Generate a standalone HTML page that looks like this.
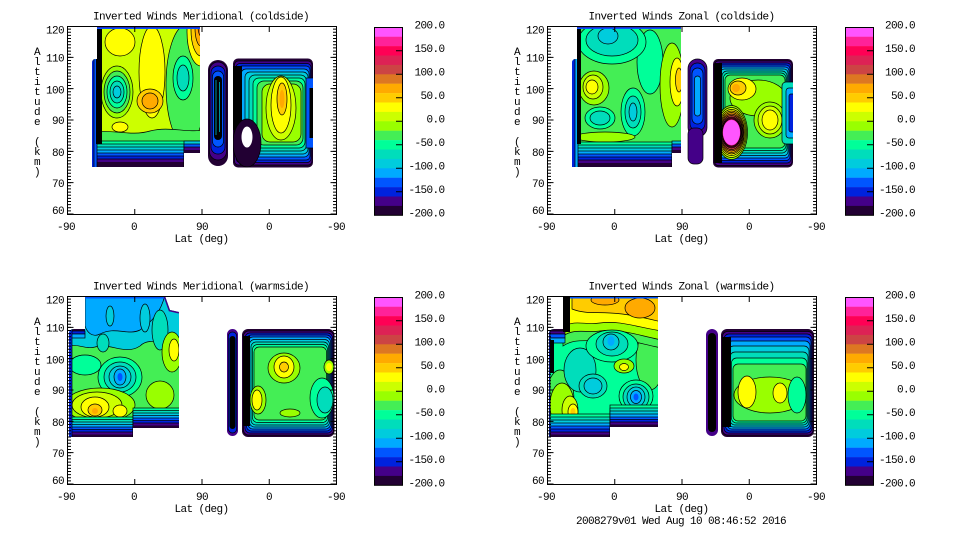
<!DOCTYPE html>
<html><head><meta charset="utf-8">
<style>
html,body{margin:0;padding:0;background:#fff;overflow:hidden}
svg{display:block}
text{font-family:"Liberation Mono","DejaVu Sans Mono",monospace;font-size:11px;letter-spacing:-0.6px;fill:#000}
.k1{fill:#ff55ff}.k2{fill:#ff2299}.k3{fill:#ff0055}.k4{fill:#dd2255}.k5{fill:#cc4444}
.k6{fill:#dd7722}.k7{fill:#ffaa00}.k8{fill:#ffcc00}.k9{fill:#ffff00}.k10{fill:#ccff00}
.k11{fill:#99ff00}.k12{fill:#44ee55}.k13{fill:#00ff99}.k14{fill:#00ddbb}.k15{fill:#00ccdd}
.k16{fill:#00aaff}.k17{fill:#0055ff}.k18{fill:#0022dd}.k19{fill:#440088}.k20{fill:#220033}
.s{stroke:#000;stroke-width:.7}
.bk{fill:#000}
</style></head><body>
<svg width="960" height="540" viewBox="0 0 960 540" xmlns="http://www.w3.org/2000/svg">
<defs>
<clipPath id="cA1"><path d="M92,63 Q92,59 95.5,59 L97,59 L97,26 L200,26 L200,153 L184,153 L184,167 L92,167Z"/></clipPath>
<clipPath id="cC1"><rect x="233" y="58.5" width="80" height="109" rx="5"/></clipPath>
<clipPath id="cA2"><path d="M572,63 Q572,59 575.5,59 L577,59 L577,26 L681,26 L681,153 L672,153 L672,167 L572,167Z"/></clipPath>
<clipPath id="cC2"><rect x="713" y="59" width="80" height="108.5" rx="5"/></clipPath>
<clipPath id="cA3"><path d="M69,334 Q69,329 74,329 L85,329 L85,296 L165,296 L170,310 L179,312 L179,428 L133,428 L133,437 L69,437Z"/></clipPath>
<clipPath id="cC3"><rect x="242" y="329" width="92.5" height="108" rx="6"/></clipPath>
<clipPath id="cA4"><path d="M549,334 Q549,329 554,329 L563,329 L563,296 L658,296 L658,427 L610,427 L610,437 L549,437Z"/></clipPath>
<clipPath id="cC4"><rect x="721" y="329" width="93" height="108" rx="6"/></clipPath>

<g id="fr">
<rect x="67.5" y="26.5" width="269" height="188" fill="none" stroke="#000" stroke-width="1"/>
<path d="M69.5,214.5V26.5M334.5,214.5V26.5" stroke="#000" stroke-width="3" stroke-dasharray="1 2.1333" fill="none"/>
<path d="M70.5,214.5V26.5M333.5,214.5V26.5" stroke="#000" stroke-width="6" stroke-dasharray="1 30.3333" fill="none"/>
<path d="M134.75,27V32M202,27V32M269.25,27V32M134.75,214V209M202,214V209M269.25,214V209" stroke="#000" stroke-width="1" fill="none"/>
</g>

<g id="cb">
<rect class="k1" x="374" y="27.3" width="29" height="9.6"/>
<rect class="k2" x="374" y="36.7" width="29" height="9.6"/>
<rect class="k3" x="374" y="46.1" width="29" height="9.6"/>
<rect class="k4" x="374" y="55.5" width="29" height="9.6"/>
<rect class="k5" x="374" y="64.9" width="29" height="9.6"/>
<rect class="k6" x="374" y="74.3" width="29" height="9.6"/>
<rect class="k7" x="374" y="83.7" width="29" height="9.6"/>
<rect class="k8" x="374" y="93.1" width="29" height="9.6"/>
<rect class="k9" x="374" y="102.5" width="29" height="9.6"/>
<rect class="k10" x="374" y="111.9" width="29" height="9.6"/>
<rect class="k11" x="374" y="121.3" width="29" height="9.6"/>
<rect class="k12" x="374" y="130.7" width="29" height="9.6"/>
<rect class="k13" x="374" y="140.1" width="29" height="9.6"/>
<rect class="k14" x="374" y="149.5" width="29" height="9.6"/>
<rect class="k15" x="374" y="158.9" width="29" height="9.6"/>
<rect class="k16" x="374" y="168.3" width="29" height="9.6"/>
<rect class="k17" x="374" y="177.7" width="29" height="9.6"/>
<rect class="k18" x="374" y="187.1" width="29" height="9.6"/>
<rect class="k19" x="374" y="196.5" width="29" height="9.6"/>
<rect class="k20" x="374" y="205.9" width="29" height="9.4"/>
<rect x="374.5" y="27.5" width="28" height="187.8" fill="none" stroke="#000" stroke-width="1"/>
<path d="M396,50.8H403M396,74.3H403M396,97.8H403M396,121.3H403M396,144.8H403M396,168.3H403M396,191.8H403" stroke="#000" stroke-width="1"/>
</g>
</defs>

<!-- ================= PANEL 1 ================= -->
<g clip-path="url(#cA1)">
<rect class="k10" x="90" y="24" width="115" height="146"/>
<ellipse class="k12 s" cx="186" cy="85" rx="20" ry="60"/>
<ellipse class="k13 s" cx="183" cy="78" rx="10" ry="22"/>
<ellipse class="k14 s" cx="183" cy="78" rx="6" ry="13"/>
<ellipse class="k9 s" cx="120" cy="42" rx="15" ry="14"/>
<ellipse class="k9 s" cx="152" cy="72" rx="13" ry="46"/>
<ellipse class="k8 s" cx="150" cy="101" rx="13" ry="12"/>
<ellipse class="k7 s" cx="150" cy="101" rx="8" ry="8"/>
<ellipse class="k9 s" cx="120" cy="127" rx="8" ry="5"/>
<ellipse class="k11 s" cx="117" cy="92" rx="16" ry="26"/>
<ellipse class="k12 s" cx="117" cy="92" rx="13" ry="21"/>
<ellipse class="k13 s" cx="117" cy="92" rx="10" ry="16"/>
<ellipse class="k14 s" cx="117" cy="92" rx="7" ry="11"/>
<ellipse class="k15 s" cx="117" cy="92" rx="4" ry="6"/>
<ellipse class="k9 s" cx="201" cy="32" rx="14" ry="34"/>
<ellipse class="k8 s" cx="201" cy="30" rx="10" ry="26"/>
<ellipse class="k7 s" cx="201" cy="28" rx="6" ry="18"/>
<ellipse class="k6 s" cx="201" cy="26" rx="3" ry="10"/>
<path class="k12 s" d="M90,133 C110,128 130,137 150,131 C170,126 185,133 205,130 L205,170 L90,170Z"/>
<rect class="k13 s" x="90" y="141" width="115" height="30"/>
<rect class="k14 s" x="90" y="144" width="115" height="30"/>
<rect class="k15 s" x="90" y="147" width="115" height="30"/>
<rect class="k16 s" x="90" y="150" width="115" height="30"/>
<rect class="k17 s" x="90" y="153" width="115" height="30"/>
<rect class="k18 s" x="90" y="156" width="115" height="30"/>
<rect class="k19 s" x="90" y="159" width="115" height="30"/>
<rect class="k20" x="90" y="162" width="115" height="30"/>
<rect class="k15 s" x="184" y="141" width="20" height="30"/>
<rect class="k17 s" x="184" y="144" width="20" height="30"/>
<rect class="k19 s" x="184" y="147" width="20" height="30"/>
<rect class="k20" x="184" y="150" width="20" height="30"/>
<rect class="k18" x="90" y="55" width="4" height="115"/>
<rect class="k17 s" x="94" y="55" width="3" height="115"/>
<rect class="bk" x="96" y="24" width="6" height="120"/>
<rect class="k19" x="97" y="24" width="110" height="3.5"/>
<rect class="k17" x="97" y="27.5" width="110" height="1.5"/>
</g>

<rect class="k20" x="208" y="60" width="20" height="106" rx="10"/>
<rect class="k19 s" x="209.5" y="62" width="17" height="98" rx="8.5"/>
<rect class="k18 s" x="211" y="66" width="14" height="88" rx="7"/>
<rect class="k17 s" x="212.5" y="71" width="11" height="76" rx="5.5"/>
<rect class="bk" x="214" y="76" width="8" height="64" rx="4"/>
<path d="M216,80V135M219.5,82V132" stroke="#00ccdd" stroke-width=".7"/>

<g clip-path="url(#cC1)">
<rect class="k20" x="230" y="55" width="86" height="115"/>
<rect class="k19 s" x="234.5" y="61" width="77.5" height="104" rx="4"/>
<rect class="k18 s" x="236" y="63.5" width="75" height="99" rx="4"/>
<rect class="k17 s" x="238" y="66" width="72" height="94" rx="4"/>
<rect class="k16 s" x="241" y="69" width="68" height="88" rx="5"/>
<rect class="k15 s" x="245" y="72" width="63" height="82" rx="5"/>
<rect class="k14 s" x="249" y="75" width="57.5" height="76" rx="6"/>
<rect class="k13 s" x="253" y="78" width="52" height="70" rx="6"/>
<rect class="k12 s" x="257" y="81" width="46" height="64" rx="7"/>
<rect class="k11 s" x="262" y="84" width="39" height="58" rx="8"/>
<ellipse class="k10 s" cx="281" cy="108" rx="15" ry="32"/>
<ellipse class="k9 s" cx="281" cy="105" rx="10" ry="28"/>
<ellipse class="k8 s" cx="282" cy="99" rx="5" ry="16"/>
<ellipse class="k7" cx="282" cy="99" rx="2.5" ry="9"/>
<rect class="bk" x="233" y="66" width="9" height="64"/>
<ellipse class="k20 s" cx="247" cy="143" rx="14" ry="24"/>
<ellipse fill="#fff" cx="247" cy="137" rx="5.5" ry="10.5"/>
<rect class="k17 s" x="306" y="78" width="8" height="70"/>
<rect class="bk" x="309.5" y="88" width="4" height="50"/>
</g>

<!-- ================= PANEL 2 ================= -->
<g clip-path="url(#cA2)">
<rect class="k12" x="570" y="24" width="115" height="146"/>
<ellipse class="k13 s" cx="650" cy="62" rx="13" ry="32"/>
<ellipse class="k13 s" cx="612" cy="42" rx="34" ry="22"/>
<ellipse class="k14 s" cx="612" cy="40" rx="26" ry="16"/>
<ellipse class="k15 s" cx="608" cy="36" rx="10" ry="8"/>
<ellipse class="k11 s" cx="594" cy="88" rx="15" ry="17"/>
<ellipse class="k10 s" cx="593" cy="87" rx="10" ry="12"/>
<ellipse class="k9 s" cx="592" cy="87" rx="6" ry="7"/>
<ellipse class="k13 s" cx="600" cy="118" rx="15" ry="11"/>
<ellipse class="k14 s" cx="600" cy="118" rx="10" ry="7"/>
<ellipse class="k13 s" cx="633" cy="112" rx="12" ry="24"/>
<ellipse class="k14 s" cx="633" cy="112" rx="8" ry="16"/>
<ellipse class="k15 s" cx="633" cy="112" rx="4" ry="9"/>
<ellipse class="k11 s" cx="672" cy="85" rx="12" ry="42"/>
<ellipse class="k9 s" cx="677" cy="82" rx="7" ry="24"/>
<ellipse class="k8 s" cx="679" cy="80" rx="3.5" ry="12"/>
<ellipse class="k11 s" cx="605" cy="137" rx="30" ry="5"/>
<rect class="k13 s" x="570" y="142" width="115" height="30"/>
<rect class="k14 s" x="570" y="145" width="115" height="30"/>
<rect class="k15 s" x="570" y="148" width="115" height="30"/>
<rect class="k16 s" x="570" y="151" width="115" height="30"/>
<rect class="k17 s" x="570" y="154" width="115" height="30"/>
<rect class="k18 s" x="570" y="157" width="115" height="30"/>
<rect class="k19 s" x="570" y="160" width="115" height="30"/>
<rect class="k20" x="570" y="163" width="115" height="30"/>
<rect class="k15 s" x="672" y="141" width="12" height="30"/>
<rect class="k17 s" x="672" y="144" width="12" height="30"/>
<rect class="k19 s" x="672" y="147" width="12" height="30"/>
<rect class="k20" x="672" y="150" width="12" height="30"/>
<rect class="k18" x="570" y="55" width="5" height="115"/>
<rect class="k16 s" x="575" y="55" width="3" height="115"/>
<rect class="bk" x="577" y="24" width="4" height="120"/>
<rect class="k19" x="577" y="24" width="110" height="3.5"/>
<rect class="k17" x="577" y="27.5" width="110" height="1.5"/>
</g>

<rect class="k19 s" x="688" y="59" width="19" height="78" rx="9.5"/>
<rect class="k18 s" x="690" y="63" width="15" height="68" rx="7.5"/>
<rect class="k17 s" x="692" y="68" width="11" height="56" rx="5.5"/>
<rect class="k16 s" x="694.5" y="76" width="6" height="40" rx="3"/>
<rect class="k19 s" x="688" y="128" width="15" height="36" rx="6"/>

<g clip-path="url(#cC2)">
<rect class="k20" x="710" y="55" width="86" height="115"/>
<rect class="k19 s" x="714.5" y="61" width="77.5" height="104.5" rx="4"/>
<rect class="k18 s" x="716" y="63" width="75" height="100" rx="4"/>
<rect class="k17 s" x="717.5" y="65" width="72.5" height="95.5" rx="4"/>
<rect class="k16 s" x="719" y="67" width="70" height="91" rx="4"/>
<rect class="k15 s" x="720.5" y="69" width="67.5" height="86.5" rx="4"/>
<rect class="k14 s" x="722" y="71" width="65" height="82" rx="5"/>
<rect class="k13 s" x="723.5" y="73" width="62.5" height="77.5" rx="5"/>
<rect class="k12 s" x="725" y="75" width="60" height="73" rx="5"/>
<ellipse class="k11 s" cx="758" cy="98" rx="28" ry="18"/>
<ellipse class="k9 s" cx="742" cy="89" rx="14" ry="11"/>
<ellipse class="k8 s" cx="738" cy="88" rx="8" ry="7"/>
<ellipse class="k7" cx="736" cy="88" rx="4" ry="4"/>
<ellipse class="k11 s" cx="770" cy="120" rx="16" ry="18"/>
<ellipse class="k10 s" cx="770" cy="120" rx="12" ry="14"/>
<ellipse class="k9 s" cx="770" cy="120" rx="8" ry="10"/>
<rect class="k14 s" x="782" y="82" width="14" height="62" rx="4"/>
<rect class="k16 s" x="786" y="88" width="10" height="50" rx="3"/>
<rect class="k18 s" x="789" y="94" width="6" height="38" rx="2"/>
<ellipse class="k11 s" cx="731.5" cy="132.5" rx="16" ry="27"/>
<ellipse class="k10 s" cx="731.5" cy="132.5" rx="15" ry="25"/>
<ellipse class="k9 s" cx="731.5" cy="132.5" rx="14" ry="23"/>
<ellipse class="k8 s" cx="731.5" cy="132.5" rx="13" ry="21.5"/>
<ellipse class="k7 s" cx="731.5" cy="132.5" rx="12.3" ry="20"/>
<ellipse class="k6 s" cx="731.5" cy="132.5" rx="11.6" ry="18.5"/>
<ellipse class="k5 s" cx="731.5" cy="132.5" rx="11" ry="17"/>
<ellipse class="k4 s" cx="731.5" cy="132.5" rx="10.3" ry="15.5"/>
<ellipse class="k3 s" cx="731.5" cy="132.5" rx="9.7" ry="14.5"/>
<ellipse class="k2 s" cx="731.5" cy="132.5" rx="9.1" ry="13.5"/>
<ellipse class="k1" cx="731.5" cy="132.5" rx="8.5" ry="12.5"/>
<rect class="bk" x="714.5" y="63" width="7.5" height="100"/>
</g>

<!-- ================= PANEL 3 ================= -->
<g clip-path="url(#cA3)">
<rect class="k12" x="67" y="294" width="115" height="146"/>
<path class="k15 s" d="M67,294 L182,294 L182,342 C165,346 150,336 140,346 C125,356 110,342 95,347 C85,350 75,342 67,347Z"/>
<path class="k16 s" d="M85,294 L165,294 C162,310 152,322 140,330 C128,336 115,326 100,334 C92,338 87,332 85,326Z"/>
<ellipse class="k15 s" cx="145" cy="318" rx="5" ry="14"/>
<ellipse class="k15 s" cx="110" cy="316" rx="4" ry="10"/>
<ellipse class="k14 s" cx="103" cy="343" rx="6" ry="9"/>
<ellipse class="k14 s" cx="160" cy="330" rx="8" ry="20"/>
<ellipse class="k11 s" cx="172" cy="352" rx="10" ry="20"/>
<ellipse class="k9 s" cx="174" cy="350" rx="5" ry="11"/>
<ellipse class="k13 s" cx="120" cy="377" rx="22" ry="20"/>
<ellipse class="k14 s" cx="120" cy="377" rx="16" ry="15"/>
<ellipse class="k15 s" cx="120" cy="377" rx="11" ry="11"/>
<ellipse class="k16 s" cx="120" cy="377" rx="6" ry="8"/>
<ellipse class="k17" cx="120" cy="377" rx="2.5" ry="4"/>
<ellipse class="k13 s" cx="85" cy="365" rx="16" ry="10"/>
<ellipse class="k11 s" cx="100" cy="405" rx="35" ry="17"/>
<ellipse class="k10 s" cx="97" cy="405" rx="25" ry="13"/>
<ellipse class="k9 s" cx="95" cy="407" rx="14" ry="10"/>
<ellipse class="k9 s" cx="120" cy="411" rx="7" ry="6"/>
<ellipse class="k8 s" cx="95" cy="410" rx="7" ry="6"/>
<ellipse class="k7" cx="95" cy="411" rx="3" ry="3"/>
<ellipse class="k11 s" cx="160" cy="395" rx="14" ry="14"/>
<rect class="k13 s" x="67" y="417" width="115" height="30"/>
<rect class="k14 s" x="67" y="419.5" width="115" height="30"/>
<rect class="k15 s" x="67" y="422" width="115" height="30"/>
<rect class="k16 s" x="67" y="424.5" width="115" height="30"/>
<rect class="k17 s" x="67" y="427" width="115" height="30"/>
<rect class="k18 s" x="67" y="429.5" width="115" height="30"/>
<rect class="k19 s" x="67" y="432" width="115" height="30"/>
<rect class="k20" x="67" y="434.5" width="115" height="30"/>
<rect class="k13 s" x="133" y="408" width="50" height="30"/>
<rect class="k14 s" x="133" y="410.5" width="50" height="30"/>
<rect class="k15 s" x="133" y="413" width="50" height="30"/>
<rect class="k16 s" x="133" y="415.5" width="50" height="30"/>
<rect class="k17 s" x="133" y="418" width="50" height="30"/>
<rect class="k18 s" x="133" y="420.5" width="50" height="30"/>
<rect class="k19 s" x="133" y="423" width="50" height="30"/>
<rect class="k20" x="133" y="425.5" width="50" height="30"/>
<rect class="k20" x="67" y="327" width="18" height="4"/>
<rect class="k18 s" x="67" y="331" width="18" height="3"/>
<rect class="k16 s" x="67" y="334" width="18" height="4"/>
<rect class="k18 s" x="67" y="327" width="5" height="115"/>
<rect class="k19" x="85" y="294" width="85" height="3"/>
<rect class="k17" x="85" y="297" width="85" height="1.5"/>
<path d="M165,296 L170,310 L179,312" stroke="#440088" stroke-width="3" fill="none"/>
</g>

<rect class="k19" x="227" y="329" width="11" height="107" rx="5.5"/>
<rect class="k18 s" x="228.3" y="332" width="8.4" height="101" rx="4.2"/>
<rect class="bk" x="229.5" y="336" width="6" height="93" rx="3"/>

<g clip-path="url(#cC3)">
<rect class="k20" x="240" y="326" width="98" height="114"/>
<rect class="k19 s" x="243.5" y="331" width="90" height="104" rx="5"/>
<rect class="k18 s" x="245" y="333" width="87.5" height="100" rx="5"/>
<rect class="k17 s" x="246.5" y="335" width="85" height="96" rx="5"/>
<rect class="k16 s" x="248" y="337" width="82.5" height="92" rx="5"/>
<rect class="k15 s" x="249.5" y="339.5" width="80" height="87.5" rx="5"/>
<rect class="k14 s" x="251" y="342" width="77.5" height="83" rx="5"/>
<rect class="k13 s" x="252.5" y="344.5" width="75" height="78" rx="5"/>
<rect class="k12 s" x="254" y="347" width="72.5" height="73" rx="5"/>
<rect class="bk" x="243" y="336" width="7" height="90"/>
<ellipse class="k13 s" cx="322" cy="398" rx="12" ry="20"/>
<ellipse class="k14 s" cx="325" cy="400" rx="8" ry="13"/>
<ellipse class="k11 s" cx="284" cy="368" rx="16" ry="15"/>
<ellipse class="k9 s" cx="284" cy="367" rx="10" ry="11"/>
<ellipse class="k8 s" cx="284" cy="367" rx="4.5" ry="5"/>
<ellipse class="k11 s" cx="258" cy="400" rx="8" ry="14"/>
<ellipse class="k9 s" cx="257" cy="400" rx="5" ry="10"/>
<ellipse class="k11 s" cx="329" cy="367" rx="5" ry="7"/>
<ellipse class="k9" cx="329" cy="367" rx="3" ry="4"/>
<ellipse class="k11 s" cx="290" cy="413" rx="10" ry="4"/>
</g>

<!-- ================= PANEL 4 ================= -->
<g clip-path="url(#cA4)">
<rect class="k13" x="547" y="294" width="115" height="146"/>
<ellipse class="k12 s" cx="560" cy="400" rx="14" ry="30"/>
<ellipse class="k14 s" cx="580" cy="370" rx="16" ry="22"/>
<ellipse class="k12 s" cx="650" cy="360" rx="14" ry="30"/>
<path class="k12 s" d="M563,294 L662,294 L662,348 C640,344 620,336 600,340 C585,342 575,338 563,346Z"/>
<path class="k11 s" d="M563,294 L662,294 L662,340 C640,336 620,328 600,331 C585,333 575,328 563,336Z"/>
<path class="k9 s" d="M565,294 L662,294 L662,331 C640,328 620,320 600,323 C585,325 575,320 565,326Z"/>
<path class="k8 s" d="M572,294 L662,294 L662,322 C645,318 630,314 610,313 C595,312 585,314 572,309Z"/>
<ellipse class="k7 s" cx="640" cy="308" rx="15" ry="10"/>
<ellipse class="k7 s" cx="605" cy="300" rx="14" ry="5"/>
<ellipse class="k13 s" cx="612" cy="346" rx="26" ry="16"/>
<ellipse class="k14 s" cx="612" cy="344" rx="16" ry="12"/>
<ellipse class="k15 s" cx="611" cy="342" rx="8" ry="8"/>
<ellipse class="k16" cx="611" cy="341" rx="3.5" ry="5"/>
<ellipse class="k14 s" cx="593" cy="386" rx="14" ry="12"/>
<ellipse class="k15 s" cx="593" cy="386" rx="9" ry="8"/>
<ellipse class="k11 s" cx="624" cy="366" rx="10" ry="7"/>
<ellipse class="k9 s" cx="624" cy="367" rx="4.5" ry="3.5"/>
<ellipse class="k13 s" cx="636" cy="396" rx="17" ry="16"/>
<ellipse class="k14 s" cx="636" cy="397" rx="13" ry="13"/>
<ellipse class="k15 s" cx="636" cy="397" rx="9" ry="10"/>
<ellipse class="k16 s" cx="636" cy="397" rx="5.5" ry="6.5"/>
<ellipse class="k17" cx="636" cy="397" rx="2.5" ry="3.5"/>
<ellipse class="k11 s" cx="562" cy="405" rx="12" ry="22"/>
<ellipse class="k10 s" cx="570" cy="410" rx="8" ry="14"/>
<ellipse class="k9 s" cx="573" cy="412" rx="5" ry="8"/>
<ellipse class="k8" cx="573" cy="412" rx="2.5" ry="4"/>
<rect class="k13 s" x="547" y="414" width="115" height="30"/>
<rect class="k14 s" x="547" y="417" width="115" height="30"/>
<rect class="k15 s" x="547" y="420" width="115" height="30"/>
<rect class="k16 s" x="547" y="423" width="115" height="30"/>
<rect class="k17 s" x="547" y="426" width="115" height="30"/>
<rect class="k18 s" x="547" y="429" width="115" height="30"/>
<rect class="k19 s" x="547" y="432" width="115" height="30"/>
<rect class="k20" x="547" y="434.5" width="115" height="30"/>
<rect class="k13 s" x="610" y="405" width="52" height="30"/>
<rect class="k14 s" x="610" y="408" width="52" height="30"/>
<rect class="k15 s" x="610" y="411" width="52" height="30"/>
<rect class="k16 s" x="610" y="414" width="52" height="30"/>
<rect class="k17 s" x="610" y="417" width="52" height="30"/>
<rect class="k18 s" x="610" y="419.5" width="52" height="30"/>
<rect class="k19 s" x="610" y="422" width="52" height="30"/>
<rect class="k20" x="610" y="424.5" width="52" height="30"/>
<rect class="k20" x="547" y="327" width="18" height="4"/>
<rect class="k19 s" x="547" y="331" width="18" height="3"/>
<rect class="k17 s" x="547" y="334" width="18" height="4"/>
<rect class="k16 s" x="547" y="338" width="18" height="5"/>
<rect class="k18 s" x="547" y="327" width="3" height="115"/>
<rect class="bk" x="550" y="340" width="4" height="33"/>
<rect class="bk" x="563" y="294" width="7" height="38"/>
<rect class="k19" x="570" y="294" width="92" height="3"/>
<rect class="k17" x="570" y="297" width="92" height="1.5"/>
</g>

<rect class="k19" x="706" y="329" width="12" height="107" rx="6"/>
<rect class="bk" x="708" y="333" width="8" height="99" rx="4"/>

<g clip-path="url(#cC4)">
<rect class="k20" x="718" y="326" width="100" height="114"/>
<rect class="k19 s" x="722.5" y="331.5" width="90.5" height="103.5" rx="5"/>
<rect class="k18 s" x="724" y="334" width="88" height="99" rx="5"/>
<rect class="k17 s" x="725.5" y="337" width="85.5" height="94" rx="5"/>
<rect class="k16 s" x="727" y="341" width="83" height="88" rx="5"/>
<rect class="k15 s" x="728.5" y="346" width="80.5" height="81" rx="5"/>
<rect class="k14 s" x="730" y="352" width="78" height="73" rx="5"/>
<rect class="k13 s" x="731.5" y="358" width="75.5" height="65" rx="5"/>
<rect class="k12 s" x="733" y="364" width="73" height="57" rx="5"/>
<ellipse class="k11 s" cx="770" cy="395" rx="36" ry="18"/>
<ellipse class="k9 s" cx="747" cy="392" rx="9" ry="16"/>
<ellipse class="k9 s" cx="780" cy="393" rx="7" ry="10"/>
<ellipse class="k13 s" cx="797" cy="395" rx="9" ry="18"/>
<rect class="bk" x="722" y="337" width="9" height="90"/>
</g>

<!-- frames and colorbars -->
<use href="#fr"/>
<use href="#fr" x="480"/>
<use href="#fr" y="270"/>
<use href="#fr" x="480" y="270"/>
<use href="#cb"/>
<use href="#cb" x="471"/>
<use href="#cb" y="270"/>
<use href="#cb" x="471" y="270"/>

<!-- titles -->
<text x="201" y="19.5" text-anchor="middle">Inverted Winds Meridional (coldside)</text>
<text x="681.5" y="19.5" text-anchor="middle">Inverted Winds Zonal (coldside)</text>
<text x="201" y="289.5" text-anchor="middle">Inverted Winds Meridional (warmside)</text>
<text x="681.5" y="289.5" text-anchor="middle">Inverted Winds Zonal (warmside)</text>

<!-- x tick labels -->
<g text-anchor="middle">
<text x="66" y="230">-90</text><text x="134" y="230">0</text><text x="202" y="230">90</text><text x="269" y="230">0</text><text x="336" y="230">-90</text>
<text x="546" y="230">-90</text><text x="614" y="230">0</text><text x="682" y="230">90</text><text x="749" y="230">0</text><text x="816" y="230">-90</text>
<text x="66" y="500">-90</text><text x="134" y="500">0</text><text x="202" y="500">90</text><text x="269" y="500">0</text><text x="336" y="500">-90</text>
<text x="546" y="500">-90</text><text x="614" y="500">0</text><text x="682" y="500">90</text><text x="749" y="500">0</text><text x="816" y="500">-90</text>
<text x="201.5" y="242">Lat (deg)</text>
<text x="681.5" y="242">Lat (deg)</text>
<text x="201.5" y="512">Lat (deg)</text>
<text x="681.5" y="512">Lat (deg)</text>
<text x="681" y="524">2008279v01 Wed Aug 10 08:46:52 2016</text>
</g>

<!-- y tick labels -->
<g text-anchor="end">
<text x="64" y="33.3">120</text><text x="64" y="61.7">110</text><text x="64" y="93.3">100</text><text x="64" y="124">90</text><text x="64" y="156">80</text><text x="64" y="187">70</text><text x="64" y="214">60</text>
<text x="544" y="33.3">120</text><text x="544" y="61.7">110</text><text x="544" y="93.3">100</text><text x="544" y="124">90</text><text x="544" y="156">80</text><text x="544" y="187">70</text><text x="544" y="214">60</text>
<text x="64" y="303.3">120</text><text x="64" y="331.7">110</text><text x="64" y="363.3">100</text><text x="64" y="394">90</text><text x="64" y="426">80</text><text x="64" y="457">70</text><text x="64" y="484">60</text>
<text x="544" y="303.3">120</text><text x="544" y="331.7">110</text><text x="544" y="363.3">100</text><text x="544" y="394">90</text><text x="544" y="426">80</text><text x="544" y="457">70</text><text x="544" y="484">60</text>
</g>

<!-- colorbar labels -->
<g text-anchor="end">
<text x="444.5" y="28.7">200.0</text><text x="444.5" y="52.1">150.0</text><text x="444.5" y="75.6">100.0</text><text x="444.5" y="99">50.0</text><text x="444.5" y="122.5">0.0</text><text x="444.5" y="145.9">-50.0</text><text x="444.5" y="169.4">-100.0</text><text x="444.5" y="192.8">-150.0</text><text x="444.5" y="216.3">-200.0</text>
<text x="915" y="28.7">200.0</text><text x="915" y="52.1">150.0</text><text x="915" y="75.6">100.0</text><text x="915" y="99">50.0</text><text x="915" y="122.5">0.0</text><text x="915" y="145.9">-50.0</text><text x="915" y="169.4">-100.0</text><text x="915" y="192.8">-150.0</text><text x="915" y="216.3">-200.0</text>
<text x="444.5" y="298.7">200.0</text><text x="444.5" y="322.1">150.0</text><text x="444.5" y="345.6">100.0</text><text x="444.5" y="369">50.0</text><text x="444.5" y="392.5">0.0</text><text x="444.5" y="415.9">-50.0</text><text x="444.5" y="439.4">-100.0</text><text x="444.5" y="462.8">-150.0</text><text x="444.5" y="486.3">-200.0</text>
<text x="915" y="298.7">200.0</text><text x="915" y="322.1">150.0</text><text x="915" y="345.6">100.0</text><text x="915" y="369">50.0</text><text x="915" y="392.5">0.0</text><text x="915" y="415.9">-50.0</text><text x="915" y="439.4">-100.0</text><text x="915" y="462.8">-150.0</text><text x="915" y="486.3">-200.0</text>
</g>

<!-- y axis titles (stacked characters) -->
<g text-anchor="middle">
<text><tspan x="37" y="55">A</tspan><tspan x="37" y="65">l</tspan><tspan x="37" y="75">t</tspan><tspan x="37" y="85">i</tspan><tspan x="37" y="95">t</tspan><tspan x="37" y="105">u</tspan><tspan x="37" y="115">d</tspan><tspan x="37" y="125">e</tspan><tspan x="37" y="145">(</tspan><tspan x="37" y="155">k</tspan><tspan x="37" y="165">m</tspan><tspan x="37" y="175">)</tspan></text>
<text><tspan x="517" y="55">A</tspan><tspan x="517" y="65">l</tspan><tspan x="517" y="75">t</tspan><tspan x="517" y="85">i</tspan><tspan x="517" y="95">t</tspan><tspan x="517" y="105">u</tspan><tspan x="517" y="115">d</tspan><tspan x="517" y="125">e</tspan><tspan x="517" y="145">(</tspan><tspan x="517" y="155">k</tspan><tspan x="517" y="165">m</tspan><tspan x="517" y="175">)</tspan></text>
<text><tspan x="37" y="325">A</tspan><tspan x="37" y="335">l</tspan><tspan x="37" y="345">t</tspan><tspan x="37" y="355">i</tspan><tspan x="37" y="365">t</tspan><tspan x="37" y="375">u</tspan><tspan x="37" y="385">d</tspan><tspan x="37" y="395">e</tspan><tspan x="37" y="415">(</tspan><tspan x="37" y="425">k</tspan><tspan x="37" y="435">m</tspan><tspan x="37" y="445">)</tspan></text>
<text><tspan x="517" y="325">A</tspan><tspan x="517" y="335">l</tspan><tspan x="517" y="345">t</tspan><tspan x="517" y="355">i</tspan><tspan x="517" y="365">t</tspan><tspan x="517" y="375">u</tspan><tspan x="517" y="385">d</tspan><tspan x="517" y="395">e</tspan><tspan x="517" y="415">(</tspan><tspan x="517" y="425">k</tspan><tspan x="517" y="435">m</tspan><tspan x="517" y="445">)</tspan></text>
</g>
</svg>
</body></html>
